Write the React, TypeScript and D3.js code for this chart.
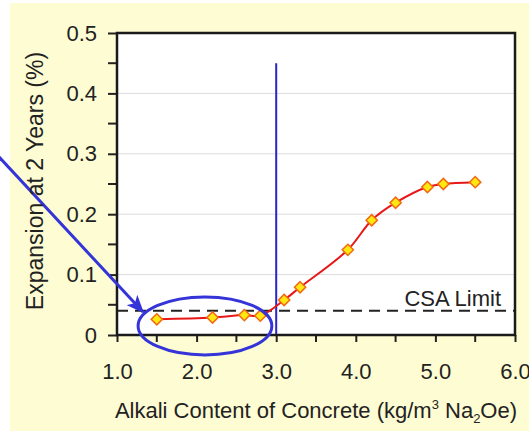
import { useEffect, useRef } from "react";
import * as d3 from "d3";

// alkali content (kg/m3 Na2Oe) vs expansion at 2 years (%)
const alkali = [1.5, 2.2, 2.6, 2.8, 3.1, 3.3, 3.9, 4.2, 4.5, 4.9, 5.1, 5.5];
const expansion = [0.026, 0.029, 0.033, 0.032, 0.058, 0.079, 0.141, 0.19, 0.219, 0.245, 0.25, 0.253];

const xTicks = [1, 2, 3, 4, 5, 6];
const xMinorTicks = [1.5, 2.5, 3.5, 4.5, 5.5];
const yTicks = [0, 0.1, 0.2, 0.3, 0.4, 0.5];
const yMinorTicks = [0.05, 0.15, 0.25, 0.35, 0.45];

const csaLimit = 0.04;
const thresholdX = 3.0;
const thresholdTop = 0.45;

// annotation (data units)
const ellipseCenter = [2.105, 0.015];
const ellipseRadii = [0.84, 0.048];
const arrowFrom = [-0.68, 0.323];
const arrowTo = [1.327, 0.038];

const W = 529;
const H = 431;
const FONT = "Arial, 'Liberation Sans', sans-serif";

const App = () => {
  const svgRef = useRef<SVGSVGElement>(null);

  useEffect(() => {
    if (!svgRef.current) return;
    const margin = { top: 33, right: 14, bottom: 96, left: 117 };

    const svg = d3.select(svgRef.current);
    svg.selectAll("*").remove();

    const x = d3.scaleLinear().domain([1, 6]).range([margin.left, W - margin.right]);
    const y = d3.scaleLinear().domain([0, 0.5]).range([H - margin.bottom, margin.top]);

    // yellow panel
    svg.append("rect").attr("x", 10).attr("y", 3).attr("width", W - 10).attr("height", H - 3).attr("fill", "#fdfcd2");

    // plot area
    svg
      .append("rect")
      .attr("x", x(1))
      .attr("y", y(0.5))
      .attr("width", x(6) - x(1))
      .attr("height", y(0) - y(0.5))
      .attr("fill", "#fff");

    // gridlines
    svg
      .append("g")
      .selectAll("line")
      .data(yTicks.slice(1, -1))
      .join("line")
      .attr("x1", x(1))
      .attr("x2", x(6))
      .attr("y1", (d) => y(d))
      .attr("y2", (d) => y(d))
      .attr("stroke", "#dcdcdc")
      .attr("stroke-width", 1);

    // y axis
    const yAxis = svg
      .append("g")
      .attr("transform", `translate(${x(1)},0)`)
      .call(
        d3
          .axisLeft(y)
          .tickValues(yTicks)
          .tickSize(9)
          .tickPadding(11)
          .tickFormat((d) => (d === 0 ? "0" : d3.format(".1f")(d as number)))
      );
    yAxis.select(".domain").remove();
    yAxis.selectAll("line").attr("stroke", "#222").attr("stroke-width", 2);
    yAxis.selectAll("text").attr("font-family", FONT).attr("font-size", 22).attr("fill", "#222");
    svg
      .append("g")
      .selectAll("line")
      .data(yMinorTicks)
      .join("line")
      .attr("x1", x(1) - 9)
      .attr("x2", x(1))
      .attr("y1", (d) => y(d))
      .attr("y2", (d) => y(d))
      .attr("stroke", "#222")
      .attr("stroke-width", 2);

    // x axis
    const xAxis = svg
      .append("g")
      .attr("transform", `translate(0,${y(0)})`)
      .call(
        d3
          .axisBottom(x)
          .tickValues(xTicks)
          .tickSize(7)
          .tickPadding(21)
          .tickFormat((d) => d3.format(".1f")(d as number))
      );
    xAxis.select(".domain").remove();
    xAxis.selectAll("line").attr("stroke", "#222").attr("stroke-width", 2);
    xAxis.selectAll("text").attr("font-family", FONT).attr("font-size", 22).attr("fill", "#222");
    svg
      .append("g")
      .selectAll("line")
      .data(xMinorTicks)
      .join("line")
      .attr("x1", (d) => x(d))
      .attr("x2", (d) => x(d))
      .attr("y1", y(0))
      .attr("y2", y(0) + 7)
      .attr("stroke", "#222")
      .attr("stroke-width", 2);

    // CSA limit
    svg
      .append("line")
      .attr("x1", x(1))
      .attr("x2", x(6))
      .attr("y1", y(csaLimit))
      .attr("y2", y(csaLimit))
      .attr("stroke", "#222")
      .attr("stroke-width", 2)
      .attr("stroke-dasharray", "11,7");
    svg
      .append("text")
      .attr("x", x(6) - 14)
      .attr("y", y(csaLimit) - 5)
      .attr("text-anchor", "end")
      .attr("font-family", FONT)
      .attr("font-size", 22)
      .attr("fill", "#222")
      .text("CSA Limit");

    // threshold line
    svg
      .append("line")
      .attr("x1", x(thresholdX))
      .attr("x2", x(thresholdX))
      .attr("y1", y(thresholdTop))
      .attr("y2", y(0))
      .attr("stroke", "#2626cc")
      .attr("stroke-width", 2);

    // frame
    svg
      .append("rect")
      .attr("x", x(1))
      .attr("y", y(0.5))
      .attr("width", x(6) - x(1))
      .attr("height", y(0) - y(0.5))
      .attr("fill", "none")
      .attr("stroke", "#1a1a1a")
      .attr("stroke-width", 2.5);

    // data line
    const pts = alkali.map((a, i) => [a, expansion[i]] as [number, number]);
    const line = d3
      .line<[number, number]>()
      .x((d) => x(d[0]))
      .y((d) => y(d[1]))
      .curve(d3.curveCatmullRom.alpha(0.5));
    svg
      .append("path")
      .attr("d", line(pts))
      .attr("fill", "none")
      .attr("stroke", "#e81818")
      .attr("stroke-width", 2);

    const diamond = d3.symbol().type(d3.symbolDiamond2).size(80);
    svg
      .append("g")
      .selectAll("path")
      .data(pts)
      .join("path")
      .attr("transform", (d) => `translate(${x(d[0])},${y(d[1])})`)
      .attr("d", diamond())
      .attr("fill", "#ffe812")
      .attr("stroke", "#f26a10")
      .attr("stroke-width", 1.5);

    // annotation: ellipse + arrow
    const blue = "#3434d8";
    svg
      .append("ellipse")
      .attr("cx", x(ellipseCenter[0]))
      .attr("cy", y(ellipseCenter[1]))
      .attr("rx", x(1 + ellipseRadii[0]) - x(1))
      .attr("ry", y(0) - y(ellipseRadii[1]))
      .attr("fill", "none")
      .attr("stroke", blue)
      .attr("stroke-width", 3);

    svg
      .append("defs")
      .append("marker")
      .attr("id", "arrowhead")
      .attr("viewBox", "0 0 12 10")
      .attr("refX", 11)
      .attr("refY", 5)
      .attr("markerWidth", 6)
      .attr("markerHeight", 5)
      .attr("orient", "auto")
      .attr("markerUnits", "strokeWidth")
      .append("path")
      .attr("d", "M0,0L12,5L0,10L3,5Z")
      .attr("fill", blue);
    svg
      .append("line")
      .attr("x1", x(arrowFrom[0]))
      .attr("y1", y(arrowFrom[1]))
      .attr("x2", x(arrowTo[0]))
      .attr("y2", y(arrowTo[1]))
      .attr("stroke", blue)
      .attr("stroke-width", 3)
      .attr("marker-end", "url(#arrowhead)");

    // axis titles
    const xt = svg
      .append("text")
      .attr("x", 316)
      .attr("y", 418)
      .attr("text-anchor", "middle")
      .attr("font-family", FONT)
      .attr("font-size", 22)
      .attr("fill", "#222");
    xt.append("tspan").text("Alkali Content of Concrete (kg/m");
    xt.append("tspan").attr("font-size", 13).attr("dy", -9).text("3");
    xt.append("tspan").attr("dy", 9).text(" Na");
    xt.append("tspan").attr("font-size", 13).attr("dy", 5).text("2");
    xt.append("tspan").attr("dy", -5).text("Oe)");

    svg
      .append("text")
      .attr("transform", `translate(43,181) rotate(-90)`)
      .attr("text-anchor", "middle")
      .attr("font-family", FONT)
      .attr("font-size", 23)
      .attr("fill", "#222")
      .text("Expansion at 2 Years (%)");
  }, []);

  return (
    <svg
      ref={svgRef}
      width={W}
      height={H}
      style={{ position: "absolute", left: 0, top: 0, background: "#fff" }}
    />
  );
};

export default App;
